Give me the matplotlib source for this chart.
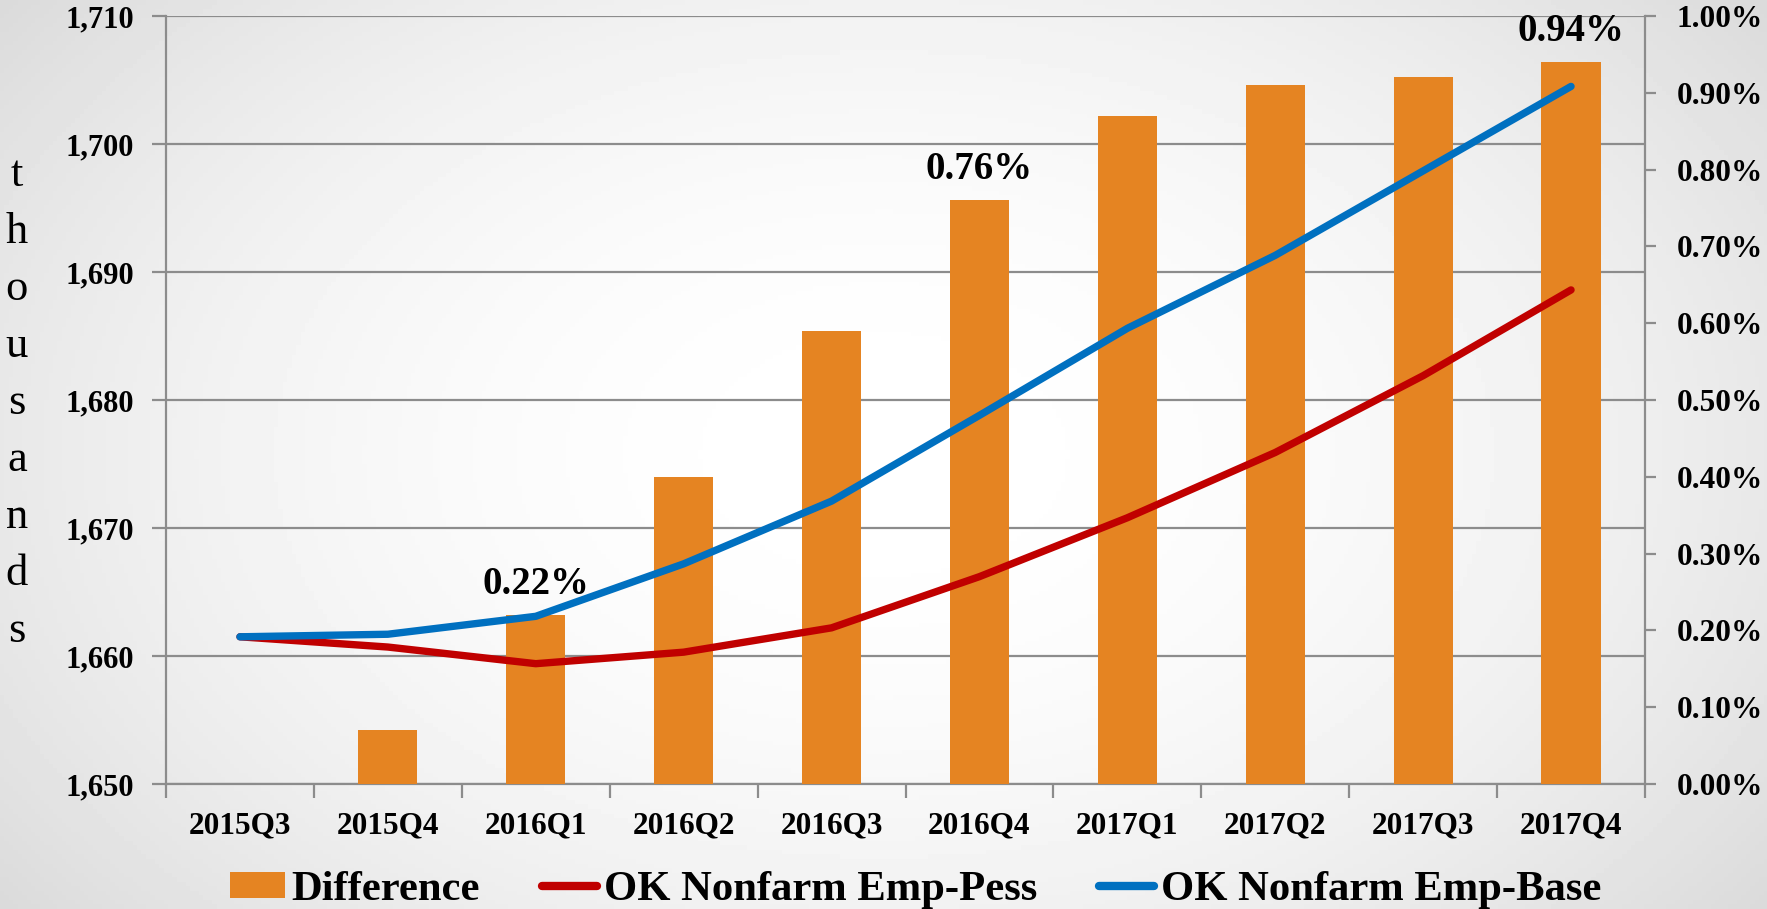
import numpy as np
import matplotlib
matplotlib.use("Agg")
import matplotlib.pyplot as plt
from matplotlib.lines import Line2D
from matplotlib.patches import Patch
from matplotlib.ticker import FuncFormatter, FixedLocator

# ---- data ----
quarters = ["2015Q3", "2015Q4", "2016Q1", "2016Q2", "2016Q3",
            "2016Q4", "2017Q1", "2017Q2", "2017Q3", "2017Q4"]
difference = [0.00, 0.07, 0.22, 0.40, 0.59, 0.76, 0.87, 0.91, 0.92, 0.94]   # percent
emp_pess = [1661.5, 1660.7, 1659.4, 1660.3, 1662.2, 1666.2, 1670.8, 1675.9, 1681.9, 1688.6]
emp_base = [1661.5, 1661.7, 1663.1, 1667.2, 1672.1, 1678.8, 1685.6, 1691.3, 1697.9, 1704.5]
labelled = {"2016Q1": "0.22%", "2016Q4": "0.76%", "2017Q4": "0.94%"}
left_ticks = [1650, 1660, 1670, 1680, 1690, 1700, 1710]
right_ticks = [0.0, 0.1, 0.2, 0.3, 0.4, 0.5, 0.6, 0.7, 0.8, 0.9, 1.0]

ORANGE = "#E58422"
RED = "#C00000"
BLUE = "#0070C0"
GRID = "#8C8C8C"
FONT = "Liberation Serif"

plt.rcParams["font.family"] = [FONT, "DejaVu Serif"]

fig = plt.figure(figsize=(17.67, 9.09), dpi=100)

# background gradient
bg = fig.add_axes([0, 0, 1, 1], zorder=-10)
yy, xx = np.mgrid[-1:1:200j, -1:1:400j]
r = np.sqrt(xx ** 2 * 1.0 + yy ** 2 * 0.6)
shade = 1.0 - 0.09 * np.clip(r, 0, 1.4) ** 2
bg.imshow(shade, cmap="gray", vmin=0, vmax=1, aspect="auto", extent=[0, 1, 0, 1])
bg.axis("off")

pos = [166 / 1767, 1 - 784 / 909, (1645 - 166) / 1767, (784 - 16) / 909]
x = np.arange(len(quarters))

# grid / left axis
ax1 = fig.add_axes(pos, zorder=0)
ax1.patch.set_visible(False)
ax1.set_ylim(1650, 1710)
ax1.set_xlim(-0.5, len(quarters) - 0.5)
ax1.set_yticks(left_ticks)
ax1.yaxis.set_major_formatter(FuncFormatter(lambda v, p: f"{int(v):,}"))
ax1.grid(axis="y", color=GRID, linewidth=1.6)
ax1.set_axisbelow(True)
ax1.set_xticks(x)
ax1.set_xticklabels(quarters)
ax1.xaxis.set_minor_locator(FixedLocator(np.arange(-0.5, len(quarters), 1.0)))
ax1.tick_params(axis="x", which="major", length=0, pad=20, labelsize=22.5)
ax1.tick_params(axis="x", which="minor", length=10, width=1.6, color=GRID, direction="out")
ax1.tick_params(axis="y", length=10, width=1.6, color=GRID, pad=13, labelsize=22)
for s in ["top", "right"]:
    ax1.spines[s].set_visible(False)
for s in ["left", "bottom"]:
    ax1.spines[s].set_color(GRID)
    ax1.spines[s].set_linewidth(1.6)
for lab in ax1.get_xticklabels() + ax1.get_yticklabels():
    lab.set_fontweight("bold")

# bars on right axis
ax2 = ax1.twinx()
ax2.set_zorder(1)
ax2.patch.set_visible(False)
ax2.bar(x, difference, width=0.4, color=ORANGE, edgecolor="none")
ax2.set_ylim(0, 1.0)
ax2.set_yticks(right_ticks)
ax2.yaxis.set_major_formatter(FuncFormatter(lambda v, p: f"{v:.2f}%"))
ax2.tick_params(axis="y", length=8, width=1.6, color=GRID, pad=15, labelsize=22.5)
for lab in ax2.get_yticklabels():
    lab.set_fontweight("bold")
for s in ["top", "left", "bottom"]:
    ax2.spines[s].set_visible(False)
ax2.spines["right"].set_color(GRID)
ax2.spines["right"].set_linewidth(1.6)

for q, txt in labelled.items():
    i = quarters.index(q)
    ax2.annotate(txt, (x[i], difference[i]), xytext=(0, 22), textcoords="offset points",
                 ha="center", va="center", fontsize=28, fontweight="bold")

# lines on left scale
ax3 = fig.add_axes(pos, zorder=2, sharex=ax1, sharey=ax1)
ax3.patch.set_visible(False)
ax3.axis("off")
ax3.plot(x, emp_pess, color=RED, lw=5.3, solid_capstyle="round", solid_joinstyle="round")
ax3.plot(x, emp_base, color=BLUE, lw=5.3, solid_capstyle="round", solid_joinstyle="round")

# y label stacked letters
fig.text(0.0095, 1 - 403 / 909, "\n".join("thousands"), ha="center", va="center",
         fontsize=32, linespacing=1.55, multialignment="center")

handles = [Patch(facecolor=ORANGE, edgecolor="none"),
           Line2D([], [], color=RED, lw=6, solid_capstyle="round"),
           Line2D([], [], color=BLUE, lw=6, solid_capstyle="round")]
labels = ["Difference", "OK Nonfarm Emp-Pess", "OK Nonfarm Emp-Base"]
fig.legend(handles, labels, loc="center", bbox_to_anchor=(0.518, 1 - 890 / 909),
           ncol=3, frameon=False, prop={"family": FONT, "weight": "bold", "size": 30.7},
           handlelength=1.3, handleheight=0.55, handletextpad=0.15, columnspacing=1.45,
           borderaxespad=0)

fig.savefig("out.png", dpi=100)
